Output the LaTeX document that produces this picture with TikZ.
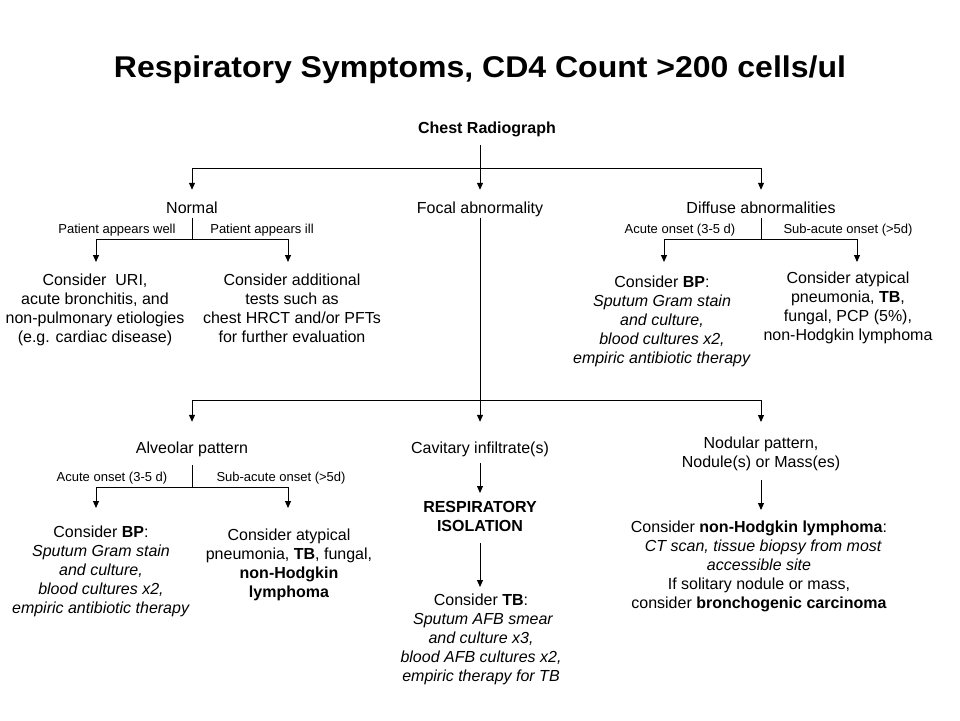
\documentclass[tikz,border=0pt]{standalone}
\usepackage{fontspec}
\setmainfont{Liberation Sans}
\usetikzlibrary{arrows.meta}
\tikzset{
  txt/.style={inner sep=0pt, font=\fontsize{16}{19}\selectfont, align=center},
  single/.style={txt, text height=11.5pt, text depth=3.5pt},
  multi/.style={txt, anchor=north},
  lbl/.style={inner sep=0pt, font=\fontsize{13}{15}\selectfont},
  ttl/.style={inner sep=0pt, font=\fontsize{30}{34}\selectfont\bfseries},
  conn/.style={line width=1pt},
  arr/.style={conn, -{Triangle[width=6pt,length=7pt]}},
}
\begin{document}
\begin{tikzpicture}[x=1pt,y=-1pt]
\useasboundingbox (0,0) rectangle (960,720);
\fill[white] (0,0) rectangle (960,720);

% title
\node[ttl] (title) at (480,70) {\scalebox{1.067}[1]{Respiratory Symptoms, CD4 Count >200 cells/ul}};

% level 1
\node[single, font=\fontsize{16}{19}\selectfont\bfseries] (chest) at (487,129) {Chest Radiograph};
\node[single] (normal) at (192,209) {Normal};
\node[single] (focal) at (480,209) {Focal abnormality};
\node[single] (diffuse) at (761,209) {Diffuse abnormalities};

\coordinate (j0) at (480,168);
\coordinate (h1L) at (192,168);
\coordinate (h1R) at (761,168);
\draw[conn, shorten <=8.5pt] (chest.south -| j0) -- (j0);
\draw[conn] (h1L) -- (h1R);
\draw[arr, shorten >=11.5pt] (h1L) -- (normal.north);
\draw[arr, shorten >=11.5pt] (j0) -- (focal.north);
\draw[arr, shorten >=11.5pt] (h1R) -- (diffuse.north);

% normal branch
\node[lbl] (well) at (117,230) {Patient appears well};
\node[lbl] (ill) at (262,230) {Patient appears ill};
\coordinate (j2) at (192,239);
\coordinate (h2L) at (96,239);
\coordinate (h2R) at (288,239);
\node[multi] (uri) at (95,274) {Consider\ \ URI,\\acute bronchitis, and\\non-pulmonary etiologies\\(e.g. cardiac disease)};
\node[multi] (addl) at (292,274) {Consider additional\\tests such as\\chest HRCT and/or PFTs\\for further evaluation};
\draw[conn, shorten <=1pt] (normal.south) -- (j2);
\draw[conn] (h2L) -- (h2R);
\draw[arr, shorten >=12pt] (h2L) -- (h2L |- uri.north);
\draw[arr, shorten >=12pt] (h2R) -- (h2R |- addl.north);

% diffuse branch
\node[lbl] (acute1) at (680,230) {Acute onset (3-5 d)};
\node[lbl] (subac1) at (848,230) {Sub-acute onset (>5d)};
\coordinate (j3) at (761,239);
\coordinate (h3L) at (664,239);
\coordinate (h3R) at (857,239);
\node[multi] (bp1) at (662,276) {Consider \textbf{BP}:\\\textit{Sputum Gram stain}\\\textit{and culture,}\\\textit{blood cultures x2,}\\\textit{empiric antibiotic therapy}};
\node[multi] (atyp1) at (848,272) {Consider atypical\\pneumonia, \textbf{TB},\\fungal, PCP (5\%),\\non-Hodgkin lymphoma};
\draw[conn, shorten <=1pt] (diffuse.south) -- (j3);
\draw[conn] (h3L) -- (h3R);
\draw[arr, shorten >=14pt] (h3L) -- (h3L |- bp1.north);
\draw[arr, shorten >=10pt] (h3R) -- (h3R |- atyp1.north);

% focal branch, level 2
\coordinate (j4) at (480,400);
\coordinate (h4L) at (192,400);
\coordinate (h4R) at (761,400);
\node[single] (alv) at (192,449) {Alveolar pattern};
\node[single] (cav) at (480,449) {Cavitary infiltrate(s)};
\node[multi] (nod) at (761,437) {Nodular pattern,\\Nodule(s) or Mass(es)};
\draw[conn, shorten <=1pt] (focal.south) -- (j4);
\draw[conn] (h4L) -- (h4R);
\draw[arr, shorten >=19.5pt] (h4L) -- (alv.north);
\draw[arr, shorten >=19.5pt] (j4) -- (cav.north);
\draw[arr, shorten >=15pt] (h4R) -- (nod.north);

% alveolar branch
\node[lbl] (acute2) at (112,478) {Acute onset (3-5 d)};
\node[lbl] (subac2) at (281,478) {Sub-acute onset (>5d)};
\coordinate (j5) at (192,487);
\coordinate (h5L) at (96,487);
\coordinate (h5R) at (288,487);
\node[multi] (bp2) at (101,526) {Consider \textbf{BP}:\\\textit{Sputum Gram stain}\\\textit{and culture,}\\\textit{blood cultures x2,}\\\textit{empiric antibiotic therapy}};
\node[multi] (atyp2) at (289,529) {Consider atypical\\pneumonia, \textbf{TB}, fungal,\\\textbf{non-Hodgkin}\\\textbf{lymphoma}};
\draw[conn, shorten <=8.5pt] (alv.south) -- (j5);
\draw[conn] (h5L) -- (h5R);
\draw[arr, shorten >=18pt] (h5L) -- (h5L |- bp2.north);
\draw[arr, shorten >=21pt] (h5R) -- (h5R |- atyp2.north);

% cavitary branch
\node[multi, font=\fontsize{16}{19}\selectfont\bfseries] (resp) at (480,501) {RESPIRATORY\\ISOLATION};
\node[multi] (tb) at (481,594) {Consider \textbf{TB}:\\\textit{\ Sputum AFB smear}\\\textit{and culture x3,}\\\textit{blood AFB cultures x2,}\\\textit{empiric therapy for TB}};
\draw[arr, shorten <=6.5pt, shorten >=8pt] (cav.south) -- (resp.north);
\draw[arr, shorten <=11.5pt, shorten >=7pt] (resp.south) -- (resp.south |- tb.north);

% nodular branch
\node[multi] (nhl) at (759,521) {Consider \textbf{non-Hodgkin lymphoma}:\\\textit{\ \ CT scan, tissue biopsy from most}\\\textit{accessible site}\\If solitary nodule or mass,\\consider \textbf{bronchogenic carcinoma}};
\draw[arr, shorten <=9pt, shorten >=11pt] (nod.south) -- (nod.south |- nhl.north);
\end{tikzpicture}
\end{document}
